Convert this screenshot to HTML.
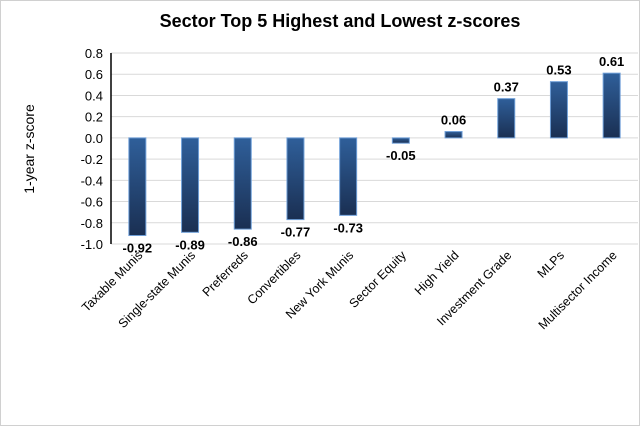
<!DOCTYPE html>
<html><head><meta charset="utf-8"><style>
body{margin:0;background:#fff}
svg{display:block;font-family:"Liberation Sans",Arial,sans-serif}
</style></head><body>
<svg width="640" height="426">
<defs><linearGradient id="g" x1="0" y1="0" x2="0" y2="1"><stop offset="0" stop-color="#2f5f9a"/><stop offset="1" stop-color="#1a2f52"/></linearGradient></defs>
<rect x="0.5" y="0.5" width="639" height="425" fill="#fff" stroke="#d0d0d0"/>
<text x="340" y="27" text-anchor="middle" font-size="18" font-weight="bold">Sector Top 5 Highest and Lowest z-scores</text>
<text transform="translate(34,149) rotate(-90)" text-anchor="middle" font-size="14">1-year z-score</text>
<g id="grid"></g><g id="bars"></g>
</svg>
<script>
const categories=["Taxable Munis","Single-state Munis","Preferreds","Convertibles","New York Munis","Sector Equity","High Yield","Investment Grade","MLPs","Multisector Income"];
const values=[-0.92,-0.89,-0.86,-0.77,-0.73,-0.05,0.06,0.37,0.53,0.61];
const ticks=[0.8,0.6,0.4,0.2,0.0,-0.2,-0.4,-0.6,-0.8,-1.0];
const NS="http://www.w3.org/2000/svg";
const X0=111,X1=638,Y0=53,Y1=244,VMAX=0.8,VMIN=-1.0;
const cw=(X1-X0)/categories.length;
const y=v=>Y0+(VMAX-v)/(VMAX-VMIN)*(Y1-Y0);
const xc=i=>X0+cw*(i+0.5);
function mk(t,a,p){const e=document.createElementNS(NS,t);for(const k in a)e.setAttribute(k,a[k]);p.appendChild(e);return e;}
const grid=document.getElementById('grid'),bars=document.getElementById('bars');
ticks.forEach(t=>{
 const l=mk('line',{x1:X0,x2:X1,y1:y(t),y2:y(t),stroke:'#d9d9d9'},grid);
 
 
 const tx=mk('text',{x:X0-8,y:y(t)+5,'text-anchor':'end','font-size':13},grid);
 tx.textContent=t.toFixed(1);
 
 
});
const ax=mk('line',{x1:X0,x2:X0,y1:Y0,y2:Y1,stroke:'#000','stroke-width':1.5},grid);


values.forEach((v,i)=>{
 const bw=17,top=Math.min(y(v),y(0)),h=Math.abs(y(v)-y(0));
 const r=mk('rect',{x:xc(i)-bw/2,y:top,width:bw,height:Math.max(h,1),fill:'url(#g)',stroke:'#6f9fd8','stroke-width':1},bars);
 
 
 const lb=mk('text',{x:xc(i),y:v<0?y(v)+17:y(v)-7,'text-anchor':'middle','font-size':13,'font-weight':'bold'},bars);
 lb.textContent=v.toFixed(2);
 
 
 const cl=mk('text',{transform:`translate(${xc(i)+6},${Y1+12}) rotate(-45)`,'text-anchor':'end','font-size':12.5},bars);
 cl.textContent=categories[i];
 
 
});
</script>
</body></html>
